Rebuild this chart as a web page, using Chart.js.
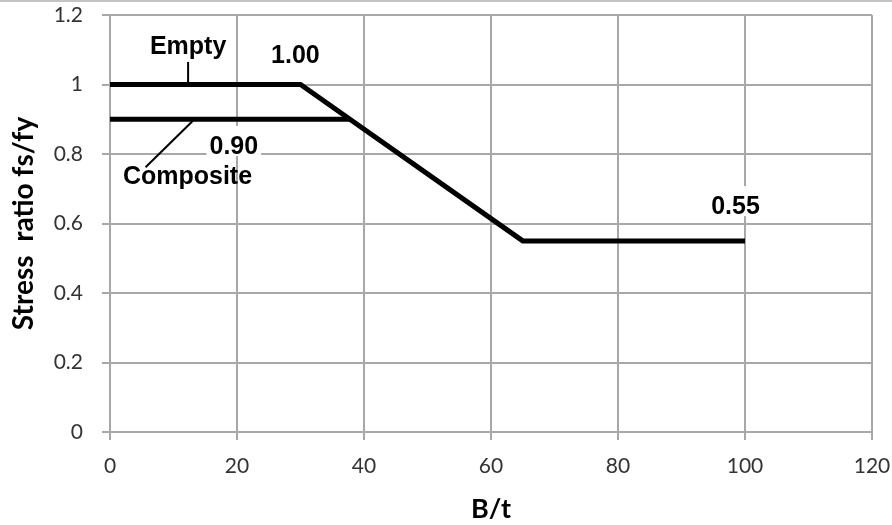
<!DOCTYPE html>
<html>
<head>
<meta charset="utf-8">
<script src="https://cdn.jsdelivr.net/npm/chart.js@4/dist/chart.umd.min.js"></script>
<style>
  html, body { margin: 0; padding: 0; background: #fff; overflow: hidden; }
  canvas { display: block; }
</style>
</head>
<body>
<canvas id="c" width="892" height="525"></canvas>
<script>
// ---- data ----
const emptyX = [0, 30, 65, 100];
const emptyY = [1.0, 1.0, 0.55, 0.55];
const compositeX = [0, 37.8];
const compositeY = [0.9, 0.9];
const xTickLabels = ['0', '20', '40', '60', '80', '100', '120'];
const yTickLabels = ['0', '0.2', '0.4', '0.6', '0.8', '1', '1.2'];
const xTitle = 'B/t';
const yTitle = 'Stress  ratio fs/fy';
const labelTexts = ['Empty', '1.00', '0.90', 'Composite', '0.55'];

// annotation placement (data coordinates), kept apart from the data
const labelPlacement = [
  { x: 12.3, y: 1.088, box: false },
  { x: 29.2, y: 1.062, box: false },
  { x: 19.5, y: 0.800, box: true },
  { x: 12.2, y: 0.714, box: false },
  { x: 98.5, y: 0.627, box: true }
];
const leaders = [
  { x1: 12.3, y1: 1.065, x2: 12.3, y2: 1.0, w: 2 },
  { x1: 13.3, y1: 0.9, x2: 5.6, y2: 0.762, w: 2 }
];

const toPts = (xs, ys) => xs.map((x, i) => ({ x: x, y: ys[i] }));
const GRID = '#a8a8a8';
const TICKFONT = { family: 'Lato', size: 21 };

const annotationPlugin = {
  id: 'annots',
  beforeDatasetsDraw(chart) {
    const ctx = chart.ctx;
    const xs = chart.scales.x, ys = chart.scales.y;
    ctx.save();
    ctx.font = 'bold 25px "Liberation Sans"';
    ctx.textAlign = 'center';
    ctx.textBaseline = 'alphabetic';
    labelTexts.forEach((t, i) => {
      const p = labelPlacement[i];
      const px = xs.getPixelForValue(p.x), py = ys.getPixelForValue(p.y);
      if (p.box) {
        const w = ctx.measureText(t).width;
        ctx.fillStyle = '#fff';
        ctx.fillRect(px - w / 2 - 3, py - 28, w + 6, 30);
      }
    });
    leaders.forEach(l => {
      ctx.beginPath();
      ctx.strokeStyle = '#000';
      ctx.lineWidth = l.w;
      ctx.moveTo(xs.getPixelForValue(l.x1), ys.getPixelForValue(l.y1));
      ctx.lineTo(xs.getPixelForValue(l.x2), ys.getPixelForValue(l.y2));
      ctx.stroke();
    });
    ctx.fillStyle = '#000';
    labelTexts.forEach((t, i) => {
      const p = labelPlacement[i];
      ctx.fillText(t, xs.getPixelForValue(p.x), ys.getPixelForValue(p.y));
    });
    // thin frame line on top edge
    ctx.fillStyle = '#c4c4c4';
    ctx.fillRect(0, 0, chart.width, 2);
    ctx.restore();
  }
};

new Chart(document.getElementById('c'), {
  type: 'scatter',
  data: {
    datasets: [
      { label: 'Empty', data: toPts(emptyX, emptyY), showLine: true, borderColor: '#000',
        backgroundColor: '#000', borderWidth: 5, pointRadius: 0, tension: 0 },
      { label: 'Composite', data: toPts(compositeX, compositeY), showLine: true, borderColor: '#000',
        backgroundColor: '#000', borderWidth: 5, pointRadius: 0, tension: 0 }
    ]
  },
  options: {
    responsive: false,
    devicePixelRatio: 1,
    animation: false,
    layout: { padding: { top: 15, right: 20, bottom: 0, left: 0 } },
    plugins: { legend: { display: false }, tooltip: { enabled: false } },
    scales: {
      x: {
        type: 'linear', min: 0, max: 120,
        ticks: { stepSize: 20, color: '#333', font: TICKFONT, padding: 14, maxRotation: 0,
          callback: (v, i) => xTickLabels[i] },
        grid: { color: GRID, lineWidth: 2, tickLength: 8, drawTicks: true },
        border: { color: GRID, width: 2 },
        title: { display: true, text: xTitle, color: '#000',
          font: { family: 'Lato', size: 27, weight: 'bold' }, padding: { top: 0, bottom: 0 } },
        afterFit: s => { s.height = 93; s.paddingLeft = 0; s.paddingRight = 0; }
      },
      y: {
        type: 'linear', min: 0, max: 1.2,
        ticks: { stepSize: 0.2, color: '#333', font: TICKFONT, padding: 19,
          callback: (v, i) => yTickLabels[i] },
        grid: { color: GRID, lineWidth: 2, tickLength: 8, drawTicks: true },
        border: { color: GRID, width: 2 },
        title: { display: true, text: yTitle, color: '#000',
          font: { family: 'Lato', size: 28, weight: 'bold' }, padding: { top: 7, bottom: 0 } },
        afterFit: s => { s.width = 110; s.paddingTop = 0; s.paddingBottom = 0; }
      }
    }
  },
  plugins: [annotationPlugin]
});
</script>
</body>
</html>
